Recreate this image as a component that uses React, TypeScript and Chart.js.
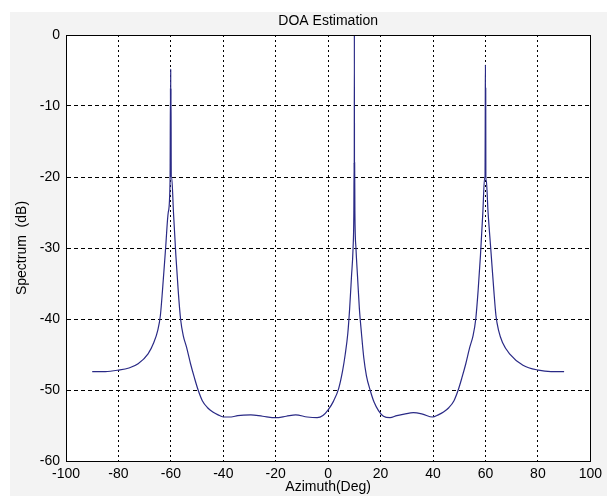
import React, { useEffect, useRef } from "react";
import { Chart, registerables } from "chart.js";

Chart.register(...registerables);

const TITLE = "DOA Estimation";
const X_LABEL = "Azimuth(Deg)";
const Y_LABEL = "Spectrum  (dB)";
const X_MIN = -100;
const X_MAX = 100;
const X_STEP = 20;
const Y_MIN = -60;
const Y_MAX = 0;
const Y_STEP = 10;

// azimuth (deg) and spectrum (dB)
const azimuth = [
  -90, -85, -80, -76, -72.5, -68.7, -66.5, -65, -64, -63.2, -62, -61, -60.3,
  -60.15, -60.1, -60.05, -60, -59.95, -59.85, -59.7,
  -59, -58.1, -57.2, -56.3, -55.3, -54, -52.5, -51, -49.6, -48, -46, -44, -42, -40,
  -37, -34.5, -29.5, -25, -20, -16, -12.4, -8, -4.2, -2,
  0, 2, 4, 5.5, 6.5, 7.5, 8.2, 8.9, 9.5, 9.8,
  9.9, 9.95, 10, 10.05, 10.1,
  10.2, 10.6, 11.2, 11.9, 12.7, 13.6, 14.6, 16, 17.5, 19.2, 21.1,
  23.6, 26.2, 29, 32.5, 36, 39.8, 42, 44, 46, 48, 49.6, 51, 52.5, 54, 55.3, 56.3, 57.2, 58.1, 59, 59.7,
  59.85, 59.95, 60, 60.05, 60.1, 60.15,
  60.3, 61, 62, 63.2, 64, 65, 66.5, 69.2, 74.3, 80.2, 85, 90,
];
const spectrum = [
  -47.4, -47.4, -47.2, -46.9, -46.3, -44.9, -43.3, -41.6, -39.5, -36, -30, -25, -20.5,
  -7.5, -20, -4.8, -20, -7.5, -20, -20,
  -25, -31, -36, -40, -42.3, -44, -46.3, -48.3, -50, -51.5, -52.5, -53.1, -53.5, -53.8,
  -53.8, -53.6, -53.5, -53.7, -53.9, -53.7, -53.5, -53.8, -53.9, -53.6,
  -52.8, -51.6, -49.8, -47.3, -45, -42, -38.5, -34, -30, -25,
  -18, -25, 0, -25, -18,
  -25, -30, -34, -38.5, -42, -45.5, -48, -50, -51.7, -52.9, -53.7,
  -53.9, -53.6, -53.4, -53.2, -53.4, -53.8, -53.5, -53.1, -52.5, -51.5, -50, -48.3, -46.3, -44, -42.3, -40, -36, -31, -25, -20,
  -20, -7.5, -4.2, -20, -7.5, -20,
  -20.5, -25, -30, -36, -39.5, -41.6, -43.3, -44.9, -46.5, -47.2, -47.4, -47.4,
];

const FONT = "'Liberation Sans', Arial, Helvetica, sans-serif";
const FONT_SIZE = 14;

const framePlugin = {
  id: "matlabFrame",
  beforeDraw(chart: any) {
    const { ctx, width, height, chartArea } = chart;
    ctx.save();
    ctx.fillStyle = "#ffffff";
    ctx.fillRect(0, 0, width, height);
    ctx.fillStyle = "#f3f3f3";
    ctx.fillRect(10, 12, width - 10, height - 12);
    ctx.fillStyle = "#ffffff";
    ctx.fillRect(chartArea.left, chartArea.top, chartArea.right - chartArea.left, chartArea.bottom - chartArea.top);
    ctx.restore();
  },
  afterDraw(chart: any) {
    const { ctx, chartArea } = chart;
    ctx.save();
    ctx.strokeStyle = "#000000";
    ctx.lineWidth = 1;
    ctx.setLineDash([]);
    ctx.strokeRect(
      Math.round(chartArea.left) + 0.5,
      Math.round(chartArea.top) + 0.5,
      Math.round(chartArea.right - chartArea.left),
      Math.round(chartArea.bottom - chartArea.top)
    );
    ctx.restore();
  },
};

export default function App() {
  const canvasRef = useRef<HTMLCanvasElement | null>(null);

  useEffect(() => {
    const canvas = canvasRef.current;
    if (!canvas) return;
    const points = azimuth.map((x, i) => ({ x, y: spectrum[i] }));
    const chart = new Chart(canvas, {
      type: "line",
      data: {
        datasets: [
          {
            label: "Spectrum",
            data: points,
            borderColor: "#2a2a86",
            borderWidth: 1.2,
            pointRadius: 0,
            cubicInterpolationMode: "monotone",
            fill: false,
          },
        ],
      },
      options: {
        animation: false,
        responsive: false,
        devicePixelRatio: 1,
        events: [],
        layout: { padding: { left: 0, right: 10, top: 0, bottom: 0 } },
        plugins: {
          legend: { display: false },
          tooltip: { enabled: false },
          title: { display: false },
        },
        scales: {
          x: {
            type: "linear",
            min: X_MIN,
            max: X_MAX,
            afterFit: (scale: any) => {
              scale.height = 35;
            },
            ticks: {
              stepSize: X_STEP,
              color: "#000000",
              padding: 5,
              font: { family: FONT, size: FONT_SIZE },
              maxRotation: 0,
              autoSkip: false,
            },
            grid: {
              color: "#000000",
              lineWidth: 1,
              drawTicks: false,
            },
            border: { display: true, color: "#000000", dash: [2, 3] },
            title: {
              display: true,
              text: X_LABEL,
              color: "#000000",
              font: { family: FONT, size: FONT_SIZE },
              padding: { top: 0, bottom: 0 },
            },
          },
          xTop: {
            type: "linear",
            position: "top",
            min: X_MIN,
            max: X_MAX,
            afterFit: (scale: any) => {
              scale.height = 35;
            },
            ticks: { display: false },
            grid: { display: false, drawTicks: false },
            border: { display: false },
            title: {
              display: true,
              text: TITLE,
              color: "#000000",
              font: { family: FONT, size: FONT_SIZE },
              padding: { top: 13, bottom: 0 },
            },
          },
          y: {
            type: "linear",
            min: Y_MIN,
            max: Y_MAX,
            afterFit: (scale: any) => {
              scale.width = 66;
            },
            ticks: {
              stepSize: Y_STEP,
              color: "#000000",
              padding: 6,
              font: { family: FONT, size: FONT_SIZE },
              autoSkip: false,
            },
            grid: {
              color: "#000000",
              lineWidth: 1,
              drawTicks: false,
            },
            border: { display: true, color: "#000000", dash: [4, 3] },
            title: {
              display: true,
              text: Y_LABEL,
              color: "#000000",
              font: { family: FONT, size: FONT_SIZE },
              padding: { top: 14, bottom: 0 },
            },
          },
        },
      },
      plugins: [framePlugin],
    });
    return () => chart.destroy();
  }, []);

  return (
    <div style={{ position: "absolute", left: 0, top: 0, width: 607, height: 496 }}>
      <canvas ref={canvasRef} width={607} height={496} style={{ display: "block" }} />
    </div>
  );
}
